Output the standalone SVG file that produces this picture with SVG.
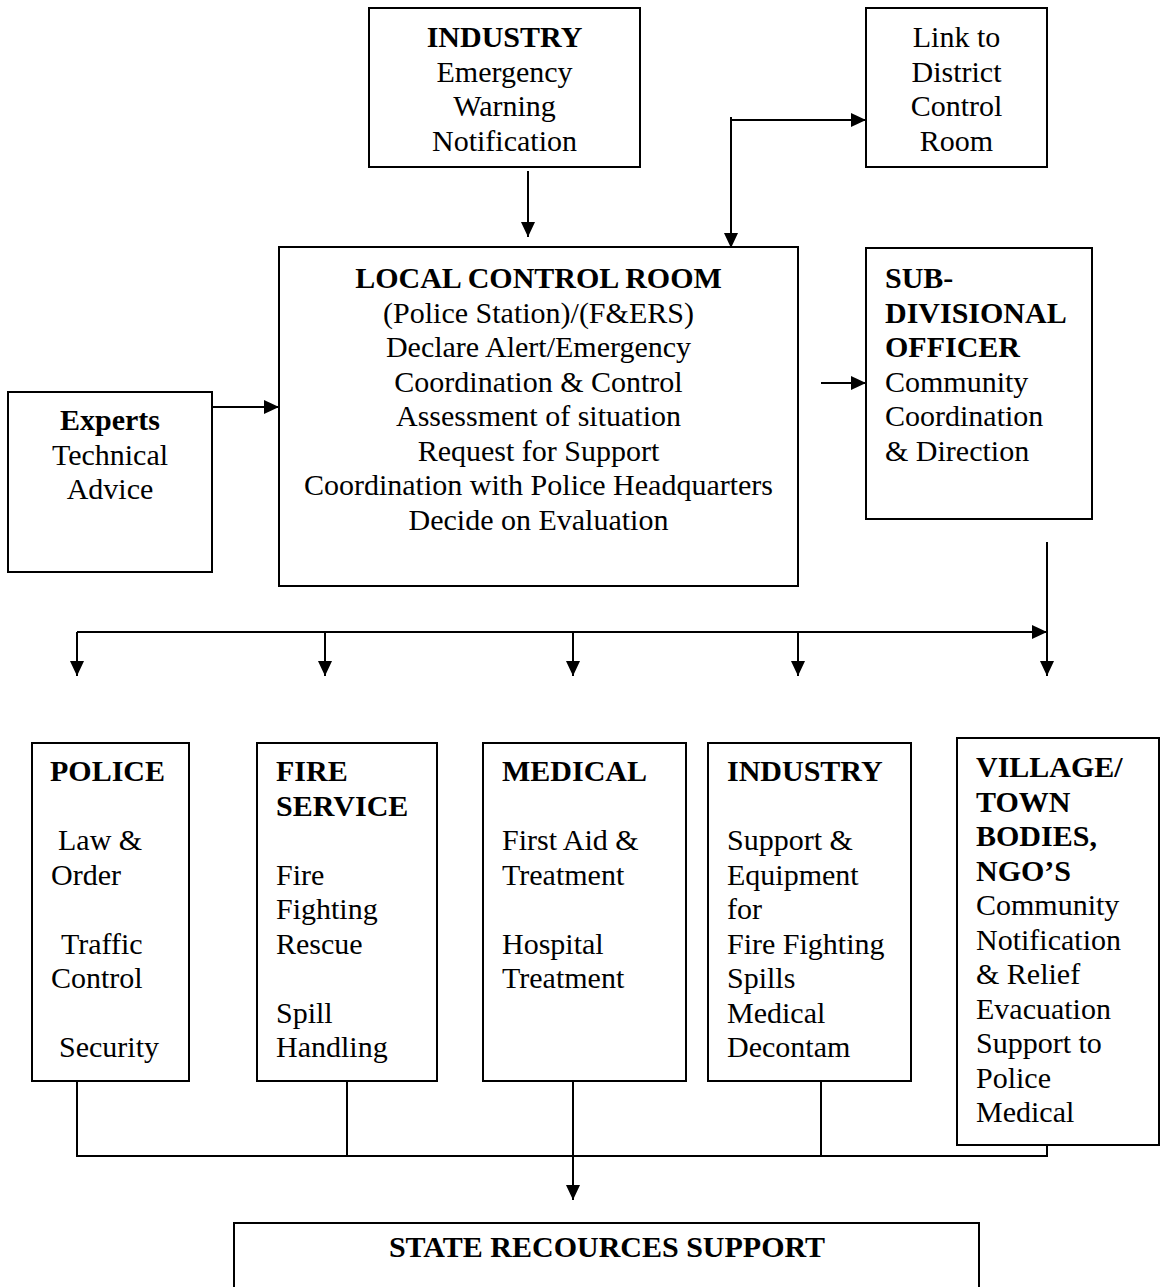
<svg xmlns="http://www.w3.org/2000/svg" width="1160" height="1287" viewBox="0 0 1160 1287">
<defs>
<marker id="ah" markerUnits="userSpaceOnUse" markerWidth="15" markerHeight="14" refX="15" refY="7" orient="auto">
<path d="M0,0 L15,7 L0,14 z" fill="#000"/>
</marker>
<style>
.box{fill:#fff;stroke:#000;stroke-width:2}
.t{font-family:"Liberation Serif","Times New Roman",serif;font-size:30px;fill:#000}
.c{text-anchor:middle}
.b{font-weight:bold}
.ln{fill:none;stroke:#000;stroke-width:2}
.ar{fill:none;stroke:#000;stroke-width:2;marker-end:url(#ah)}
</style>
</defs>
<rect width="1160" height="1287" fill="#fff"/>

<g id="connectors">
<path class="ar" d="M528,171 V237"/>
<path class="ar" d="M731,117 V248"/>
<path class="ar" d="M731,120 H866"/>
<path class="ar" d="M212,407 H279"/>
<path class="ar" d="M821,383 H866"/>
<path class="ar" d="M77,632 H1047"/>
<path class="ar" d="M77,632 V676"/>
<path class="ar" d="M325,632 V676"/>
<path class="ar" d="M573,632 V676"/>
<path class="ar" d="M798,632 V676"/>
<path class="ar" d="M1047,542 V676"/>
<path class="ln" d="M77,1081 V1156 H1047 V1145"/>
<path class="ln" d="M347,1081 V1156"/>
<path class="ln" d="M821,1081 V1156"/>
<path class="ar" d="M573,1081 V1200"/>
</g>

<g id="industry-top">
<rect class="box" x="369" y="8" width="271" height="159"/>
<text class="t c b" x="504.5" y="47">INDUSTRY</text>
<text class="t c" x="504.5" y="81.5">Emergency</text>
<text class="t c" x="504.5" y="116">Warning</text>
<text class="t c" x="504.5" y="150.5">Notification</text>
</g>

<g id="link-district">
<rect class="box" x="866" y="8" width="181" height="159"/>
<text class="t c" x="956.5" y="47">Link to</text>
<text class="t c" x="956.5" y="81.5">District</text>
<text class="t c" x="956.5" y="116">Control</text>
<text class="t c" x="956.5" y="150.5">Room</text>
</g>

<g id="local-control-room">
<rect class="box" x="279" y="247" width="519" height="339"/>
<text class="t c b" x="538.5" y="288">LOCAL CONTROL ROOM</text>
<text class="t c" x="538.5" y="322.5">(Police Station)/(F&amp;ERS)</text>
<text class="t c" x="538.5" y="357">Declare Alert/Emergency</text>
<text class="t c" x="538.5" y="391.5">Coordination &amp; Control</text>
<text class="t c" x="538.5" y="426">Assessment of situation</text>
<text class="t c" x="538.5" y="460.5">Request for Support</text>
<text class="t c" x="538.5" y="495">Coordination with Police Headquarters</text>
<text class="t c" x="538.5" y="529.5">Decide on Evaluation</text>
</g>

<g id="experts">
<rect class="box" x="8" y="392" width="204" height="180"/>
<text class="t c b" x="110" y="430">Experts</text>
<text class="t c" x="110" y="464.5">Technical</text>
<text class="t c" x="110" y="499">Advice</text>
</g>

<g id="sub-divisional-officer">
<rect class="box" x="866" y="248" width="226" height="271"/>
<text class="t b" x="885" y="288">SUB-</text>
<text class="t b" x="885" y="322.5">DIVISIONAL</text>
<text class="t b" x="885" y="357">OFFICER</text>
<text class="t" x="885" y="391.5">Community</text>
<text class="t" x="885" y="426">Coordination</text>
<text class="t" x="885" y="460.5">&amp; Direction</text>
</g>

<g id="police">
<rect class="box" x="32" y="743" width="157" height="338"/>
<text class="t b" x="50" y="781">POLICE</text>
<text class="t" x="58" y="850">Law &amp;</text>
<text class="t" x="51" y="884.5">Order</text>
<text class="t" x="61" y="953.5">Traffic</text>
<text class="t" x="51" y="988">Control</text>
<text class="t" x="59" y="1057">Security</text>
</g>

<g id="fire-service">
<rect class="box" x="257" y="743" width="180" height="338"/>
<text class="t b" x="276" y="781">FIRE</text>
<text class="t b" x="276" y="815.5">SERVICE</text>
<text class="t" x="276" y="884.5">Fire</text>
<text class="t" x="276" y="919">Fighting</text>
<text class="t" x="276" y="953.5">Rescue</text>
<text class="t" x="276" y="1022.5">Spill</text>
<text class="t" x="276" y="1057">Handling</text>
</g>

<g id="medical">
<rect class="box" x="483" y="743" width="203" height="338"/>
<text class="t b" x="502" y="781">MEDICAL</text>
<text class="t" x="502" y="850">First Aid &amp;</text>
<text class="t" x="502" y="884.5">Treatment</text>
<text class="t" x="502" y="953.5">Hospital</text>
<text class="t" x="502" y="988">Treatment</text>
</g>

<g id="industry-bottom">
<rect class="box" x="708" y="743" width="203" height="338"/>
<text class="t b" x="727" y="781">INDUSTRY</text>
<text class="t" x="727" y="850">Support &amp;</text>
<text class="t" x="727" y="884.5">Equipment</text>
<text class="t" x="727" y="919">for</text>
<text class="t" x="727" y="953.5">Fire Fighting</text>
<text class="t" x="727" y="988">Spills</text>
<text class="t" x="727" y="1022.5">Medical</text>
<text class="t" x="727" y="1057">Decontam</text>
</g>

<g id="village-town-bodies">
<rect class="box" x="957" y="738" width="202" height="407"/>
<text class="t b" x="976" y="777">VILLAGE/</text>
<text class="t b" x="976" y="811.5">TOWN</text>
<text class="t b" x="976" y="846">BODIES,</text>
<text class="t b" x="976" y="880.5">NGO’S</text>
<text class="t" x="976" y="915">Community</text>
<text class="t" x="976" y="949.5">Notification</text>
<text class="t" x="976" y="984">&amp; Relief</text>
<text class="t" x="976" y="1018.5">Evacuation</text>
<text class="t" x="976" y="1053">Support to</text>
<text class="t" x="976" y="1087.5">Police</text>
<text class="t" x="976" y="1122">Medical</text>
</g>

<g id="state-resources-support">
<rect class="box" x="234" y="1223" width="745" height="90"/>
<text class="t c b" x="607" y="1257">STATE RECOURCES SUPPORT</text>
</g>
</svg>
